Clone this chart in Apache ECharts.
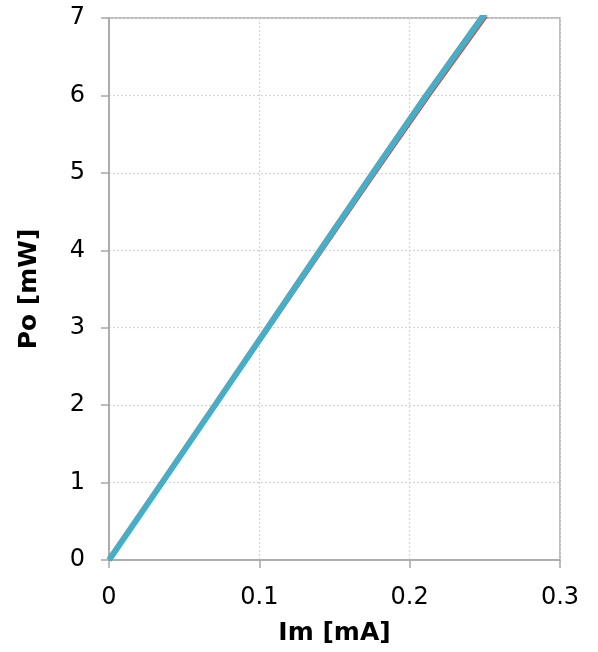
<!DOCTYPE html>
<html>
<head>
<meta charset="utf-8">
<script src="https://cdn.jsdelivr.net/npm/echarts@6/dist/echarts.min.js"></script>
<style>html,body{margin:0;padding:0;background:#fff;}#c{width:598px;height:652px;}</style>
</head>
<body>
<div id="c"></div>
<script>
// Power levels (mW) at which each curve's current was read
var poLevels = [0, 1, 2, 3, 4, 5, 6, 7, 7.3];
// Current Im (mA) for each series at those power levels
var imRed    = [0, 0.0357, 0.0713, 0.1068, 0.1422, 0.1776, 0.2134, 0.2505, 0.2616];
var imGreen  = [0, 0.0355, 0.0710, 0.1063, 0.1414, 0.1767, 0.2124, 0.2494, 0.2604];
var imPurple = [0, 0.0355, 0.0709, 0.1061, 0.1412, 0.1765, 0.2121, 0.2490, 0.2600];
var imBlue   = [0, 0.0354, 0.0707, 0.1058, 0.1408, 0.1760, 0.2115, 0.2484, 0.2594];
var imCyan   = [0, 0.0353, 0.0705, 0.1055, 0.1404, 0.1755, 0.2110, 0.2478, 0.2588];
var xTicks = [0, 0.1, 0.2, 0.3];
var yTicks = [0, 1, 2, 3, 4, 5, 6, 7];

function pairs(xs){ return xs.map(function(x,i){ return [x, poLevels[i]]; }); }

var FONT = 'DejaVu Sans';
var chart = echarts.init(document.getElementById('c'));
function mk(name, xs, color, w){
  return {name:name, type:'line', data:pairs(xs), showSymbol:false, symbol:'none',
    lineStyle:{color:color, width:w}, itemStyle:{color:color}, clip:true, animation:false};
}
chart.setOption({
  animation:false,
  grid:{left:109, right:38, top:18, bottom:92, show:true, borderColor:'#a6a6a6', borderWidth:1.5},
  xAxis:{type:'value', min:0, max:0.3, interval:0.1,
    name:'Im [mA]', nameLocation:'middle', nameGap:61,
    nameTextStyle:{fontFamily:FONT, fontSize:25, fontWeight:'bold', color:'#000'},
    axisLine:{show:true, lineStyle:{color:'#a6a6a6', width:1.5}},
    axisTick:{show:true, length:8, lineStyle:{color:'#a6a6a6', width:1.5}},
    axisLabel:{fontFamily:FONT, fontSize:24, color:'#000', margin:26,
      formatter:function(v){ var t = xTicks.filter(function(k){return Math.abs(k-v)<1e-9;}); return t.length? String(t[0]) : ''; }},
    splitLine:{show:true, lineStyle:{color:'#d4d4d4', type:[2,2], width:1.2}}
  },
  yAxis:{type:'value', min:0, max:7, interval:1,
    name:'Po [mW]', nameLocation:'middle', nameGap:67,
    nameTextStyle:{fontFamily:FONT, fontSize:25, fontWeight:'bold', color:'#000'},
    axisLine:{show:true, lineStyle:{color:'#a6a6a6', width:1.5}},
    axisTick:{show:true, length:8, lineStyle:{color:'#a6a6a6', width:1.5}},
    axisLabel:{fontFamily:FONT, fontSize:24, color:'#000', margin:24,
      formatter:function(v){ return yTicks.indexOf(v)>=0 ? String(v) : ''; }},
    splitLine:{show:true, lineStyle:{color:'#d4d4d4', type:[2,2], width:1.2}}
  },
  series:[
    mk('red', imRed, '#c0504d', 2.5),
    mk('green', imGreen, '#9bbb59', 2.5),
    mk('purple', imPurple, '#8064a2', 2.5),
    mk('blue', imBlue, '#4f81bd', 2.5),
    mk('cyan', imCyan, '#4bacc6', 6)
  ]
});
</script>
</body>
</html>
